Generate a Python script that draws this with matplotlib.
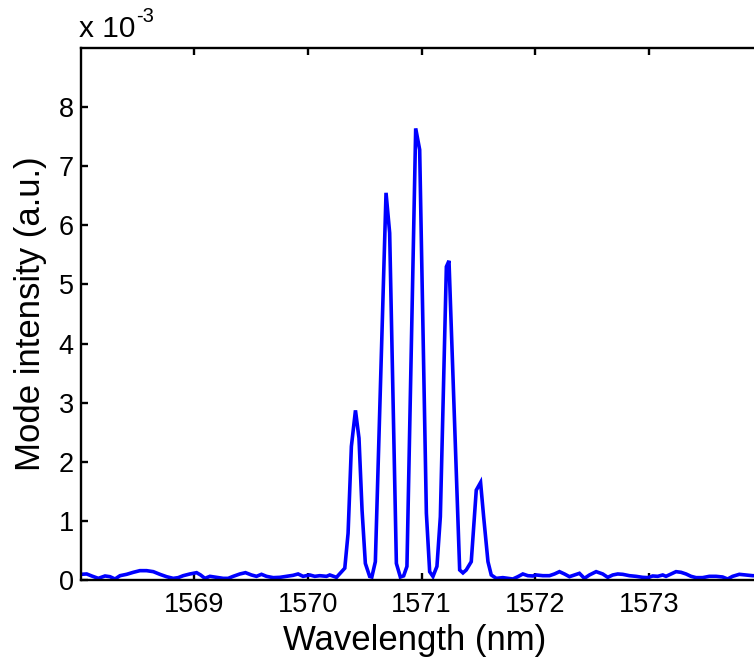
import matplotlib
matplotlib.use("Agg")
import matplotlib.pyplot as plt
from matplotlib.ticker import FixedLocator, NullLocator

plt.rcParams["font.family"] = ["Liberation Sans", "DejaVu Sans"]

# Spectrum samples: wavelength (nm) and mode intensity (units of 1e-3 a.u.)
wl_left = [1568.000, 1568.053, 1568.097, 1568.155, 1568.214, 1568.258, 1568.302,
           1568.346, 1568.404, 1568.463, 1568.521, 1568.580, 1568.639, 1568.697,
           1568.756, 1568.814, 1568.858, 1568.902, 1568.961, 1569.020, 1569.055,
           1569.093, 1569.137, 1569.196, 1569.254, 1569.298, 1569.342, 1569.401,
           1569.450, 1569.503, 1569.547, 1569.591, 1569.635, 1569.694, 1569.752,
           1569.811, 1569.869, 1569.913, 1569.957, 1570.016, 1570.060, 1570.104,
           1570.163]
int_left = [0.096, 0.102, 0.068, 0.028, 0.068, 0.056, 0.017,
            0.073, 0.096, 0.130, 0.158, 0.158, 0.141, 0.096,
            0.056, 0.028, 0.040, 0.073, 0.102, 0.124, 0.085,
            0.028, 0.062, 0.045, 0.028, 0.028, 0.062, 0.102,
            0.124, 0.085, 0.062, 0.096, 0.062, 0.040, 0.045,
            0.062, 0.079, 0.102, 0.062, 0.085, 0.062, 0.073,
            0.062]

wl_modes = [1570.192, 1570.251, 1570.324, 1570.353, 1570.382, 1570.418, 1570.449,
            1570.476, 1570.505, 1570.543, 1570.562, 1570.593, 1570.687, 1570.719,
            1570.778, 1570.813, 1570.842, 1570.871, 1570.948, 1570.983, 1571.042,
            1571.071, 1571.100, 1571.135, 1571.165, 1571.218, 1571.241, 1571.335,
            1571.364, 1571.393, 1571.437, 1571.481, 1571.519, 1571.546, 1571.584,
            1571.613]
int_modes = [0.085, 0.045, 0.20, 0.79, 2.26, 2.87, 2.40,
             1.18, 0.28, 0.06, 0.05, 0.31, 6.55, 5.87,
             0.28, 0.05, 0.07, 0.23, 7.64, 7.28, 1.13,
             0.14, 0.06, 0.23, 1.07, 5.30, 5.40, 0.17,
             0.12, 0.17, 0.31, 1.52, 1.65, 1.07, 0.31,
             0.085]

wl_right = [1571.657, 1571.715, 1571.759, 1571.803, 1571.847, 1571.891, 1571.935,
            1571.979, 1572.008, 1572.067, 1572.125, 1572.169, 1572.213, 1572.257,
            1572.301, 1572.345, 1572.389, 1572.433, 1572.477, 1572.536, 1572.594,
            1572.638, 1572.682, 1572.726, 1572.770, 1572.829, 1572.887, 1572.946,
            1572.990, 1573.034, 1573.078, 1573.122, 1573.151, 1573.195, 1573.239,
            1573.283, 1573.327, 1573.371, 1573.415, 1573.473, 1573.532, 1573.591,
            1573.649, 1573.693, 1573.737, 1573.796, 1573.854, 1573.913, 1574.000]
int_right = [0.028, 0.040, 0.028, 0.017, 0.056, 0.102, 0.073,
             0.068, 0.085, 0.073, 0.073, 0.102, 0.141, 0.102,
             0.056, 0.085, 0.113, 0.028, 0.085, 0.141, 0.102,
             0.045, 0.085, 0.102, 0.096, 0.073, 0.062, 0.045,
             0.040, 0.068, 0.062, 0.085, 0.062, 0.102, 0.141,
             0.130, 0.102, 0.062, 0.040, 0.040, 0.062, 0.062,
             0.051, 0.017, 0.062, 0.096, 0.085, 0.073, 0.070]

x_ticks = [1569, 1570, 1571, 1572, 1573]
y_ticks = [0, 1, 2, 3, 4, 5, 6, 7, 8]
x_range = (1568, 1574)
y_range = (0, 9)

wavelength = wl_left + wl_modes + wl_right
intensity = [v * 1e-3 for v in int_left + int_modes + int_right]

W, H, DPI = 754, 661, 100
fig = plt.figure(figsize=(W / DPI, H / DPI), dpi=DPI)
fig.patch.set_facecolor("white")

left_px, right_px, top_px, bottom_px = 80.7, 762.5, 48.0, 580.0
ax = fig.add_axes([left_px / W, (H - bottom_px) / H,
                   (right_px - left_px) / W, (bottom_px - top_px) / H])

ax.plot(wavelength, intensity, color=(0, 0, 1), linewidth=2.6, solid_joinstyle="miter")

ax.set_xlim(*x_range)
ax.set_ylim(y_range[0] * 1e-3, y_range[1] * 1e-3)
ax.xaxis.set_major_locator(FixedLocator(x_ticks))
ax.yaxis.set_major_locator(FixedLocator([t * 1e-3 for t in y_ticks]))
ax.set_xticklabels([str(t) for t in x_ticks])
ax.set_yticklabels([str(t) for t in y_ticks])
ax.xaxis.set_minor_locator(NullLocator())
ax.yaxis.set_minor_locator(NullLocator())

for s in ax.spines.values():
    s.set_linewidth(1.7)
ax.tick_params(direction="in", length=5, width=1.7, labelsize=19.5,
               top=True, right=True, colors="black")
ax.tick_params(axis="x", pad=9)
ax.tick_params(axis="y", pad=5)

fig.text(414.5 / W, (H - 650) / H, "Wavelength (nm)", fontsize=25,
         ha="center", va="baseline")
fig.text(31 / W, (H - 313.5) / H, "Mode intensity (a.u.)", fontsize=25,
         ha="center", va="center", rotation=90)

# exponent label above the y axis
fig.text(79 / W, (H - 37) / H, "x 10", fontsize=21.5, ha="left", va="baseline")
fig.text(136 / W, (H - 22) / H, "-3", fontsize=14.5, ha="left", va="baseline")

fig.savefig("out.png", dpi=DPI, facecolor="white")
